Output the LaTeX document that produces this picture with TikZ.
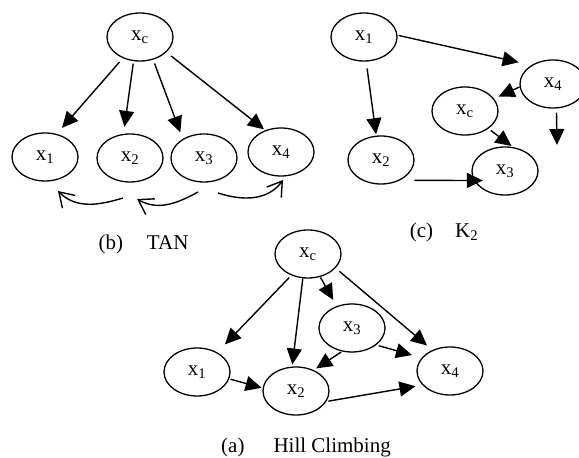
\documentclass[tikz,border=0pt]{standalone}
\usepackage{fontspec}
\setmainfont{Liberation Serif}
\usetikzlibrary{arrows.meta,shapes.geometric,calc}
\begin{document}
\begin{tikzpicture}[x=1pt,y=1pt,
  var/.style={draw, ellipse, line width=1.3pt, minimum width=66pt, minimum height=48pt, inner sep=0pt, font=\fontsize{21}{24}\selectfont},
  edge/.style={line width=1.4pt, -{Triangle[length=16pt,width=15pt]}},
  tanedge/.style={line width=1.4pt, -{Straight Barb[length=14pt,width=18pt]}},
  capt/.style={font=\fontsize{21}{24}\selectfont, inner sep=0pt}]
\useasboundingbox (0,0) rectangle (579,458);

% (b) TAN
\node[var] (tc) at (140,421) {x\textsubscript{c}};
\node[var] (t1) at (45,301) {x\textsubscript{1}};
\node[var] (t2) at (130,300) {x\textsubscript{2}};
\node[var] (t3) at (204,300) {x\textsubscript{3}};
\node[var] (t4) at (281,306) {x\textsubscript{4}};
\draw[edge, shorten <=5pt, shorten >=8pt] (tc.231) -- (t1.63);
\draw[edge, shorten <=2.5pt, shorten >=7pt] (tc.255) -- (t2.105);
\draw[edge, shorten <=4pt, shorten >=7pt] (tc.300) -- (t3.138);
\draw[edge, shorten <=6pt, shorten >=1.5pt] (tc.330) -- (t4.126);
\draw[tanedge] ($(t2)+(-7,-40)$) to[out=197, in=-45] ($(t1)+(13,-34)$);
\draw[tanedge] ($(t3)+(-6,-34)$) to[out=209, in=-30] ($(t2)+(7,-41)$);
\draw[tanedge] ($(t3)+(14,-35)$) to[out=-18, in=234] ($(t4)+(2,-28)$);
\node[capt] (capb) at (143.5,214) {(b)\hspace{24pt}TAN};

% (c) K2
\node[var] (k1) at (364,421) {x\textsubscript{1}};
\node[var] (k4) at (553,374) {x\textsubscript{4}};
\node[var] (kc) at (465,347) {x\textsubscript{c}};
\node[var] (k2) at (381,298) {x\textsubscript{2}};
\node[var] (k3) at (505,287) {x\textsubscript{3}};
\coordinate (kfree) at (557,313);
\draw[edge, shorten <=1pt, shorten >=13pt] (k1.3) -- (k4.139);
\draw[edge, shorten <=7pt, shorten >=1.4pt] (k1.275) -- (k2.101);
\draw[edge, shorten >=5pt] (k4.185) -- (kc.23);
\draw[edge, shorten <=3pt, shorten >=1.6pt] (kc.323) -- (k3.72);
\draw[edge, shorten <=4pt] (k4.278) -- (kfree);
\draw[edge, shorten <=14.5pt, shorten >=-8.9pt] (k2.313) -- (k3.197);
\node[capt] (capc) at (444,226) {(c)\hspace{22pt}K\textsubscript{2}};

% (a) Hill Climbing
\node[var] (hc) at (308,204) {x\textsubscript{c}};
\node[var] (h3) at (352,130) {x\textsubscript{3}};
\node[var] (h1) at (197,86) {x\textsubscript{1}};
\node[var] (h2) at (296,67) {x\textsubscript{2}};
\node[var] (h4) at (450,87) {x\textsubscript{4}};
\draw[edge, shorten <=3pt, shorten >=11pt] (hc.232) -- (h1.44);
\draw[edge, shorten >=2pt] (hc.258) -- (h2.99);
\draw[edge, shorten <=0.6pt, shorten >=7pt] (hc.298) -- (h3.125);
\draw[edge, shorten <=5pt, shorten >=7pt] (hc.333) -- (h4.130);
\draw[edge, shorten <=1pt, shorten >=3pt] (h3.247) -- (h2.50);
\draw[edge, shorten <=2.6pt, shorten >=10pt] (h3.325) -- (h4.155);
\draw[edge, shorten <=1.3pt, shorten >=1pt] (h1.348) -- (h2.175);
\draw[edge, shorten <=2pt, shorten >=7pt] (h2.341) -- (h4.207);
\node[capt] (capa) at (306,11) {(a)\hspace{29pt}Hill Climbing};
\end{tikzpicture}
\end{document}
